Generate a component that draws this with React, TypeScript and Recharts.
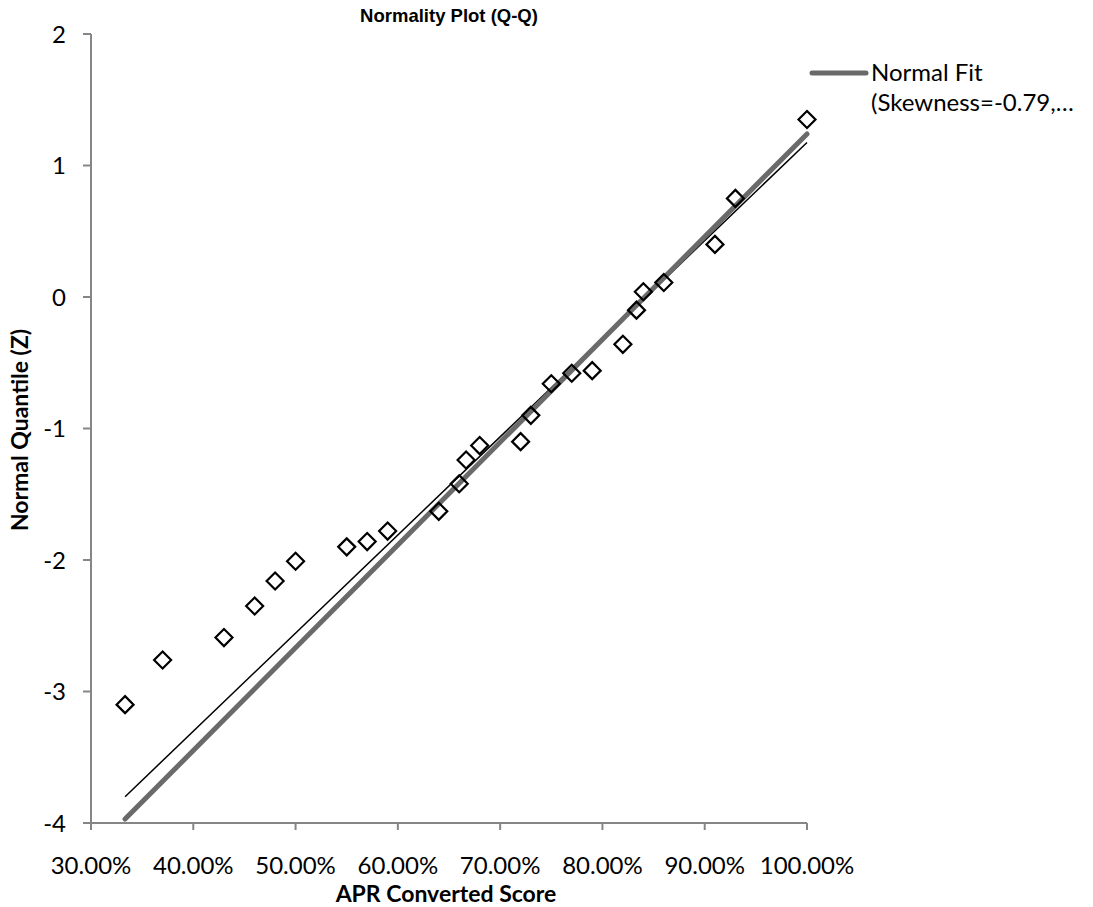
import React from 'react';
import { ScatterChart, Scatter, XAxis, YAxis, Label, Customized } from 'recharts';

// APR converted score (fraction) and normal quantile (z) for each observation
const scoreValues = [0.3333, 0.37, 0.43, 0.46, 0.48, 0.5, 0.55, 0.57, 0.59, 0.64, 0.66, 0.6667, 0.68, 0.72, 0.73, 0.75, 0.77, 0.79, 0.82, 0.8333, 0.84, 0.86, 0.91, 0.93, 1.0];
const quantileValues = [-3.1, -2.76, -2.59, -2.35, -2.16, -2.01, -1.9, -1.86, -1.78, -1.63, -1.42, -1.24, -1.13, -1.1, -0.9, -0.66, -0.58, -0.56, -0.36, -0.1, 0.04, 0.11, 0.4, 0.75, 1.35];

// Normal fit line (gray) and linear trend line (black) endpoints
const lineX = [0.3333, 1.0];
const normalFitY = [-3.97, 1.24];
const trendY = [-3.8, 1.175];

const xTicks = [0.3, 0.4, 0.5, 0.6, 0.7, 0.8, 0.9, 1.0];
const yTicks = [-4, -3, -2, -1, 0, 1, 2];

const legendLines = ['Normal Fit', '(Skewness=-0.79,…'];

const points = scoreValues.map((x, i) => ({ x, y: quantileValues[i] }));
const normalFit = lineX.map((x, i) => ({ x, y: normalFitY[i] }));
const trend = lineX.map((x, i) => ({ x, y: trendY[i] }));

const AXIS = '#868686';
const FIT = '#6a6a6a';

const Diamond = (props: any) => {
  const { cx, cy } = props;
  const r = 8.5;
  return (
    <path
      d={`M${cx},${cy - r}L${cx + r},${cy}L${cx},${cy + r}L${cx - r},${cy}Z`}
      fill="none"
      stroke="#000"
      strokeWidth={2.2}
    />
  );
};

const NoShape = () => <g />;

const LegendBox = () => (
  <g className="recharts-legend">
    <line x1={812} y1={73} x2={866} y2={73} stroke={FIT} strokeWidth={5} strokeLinecap="round" />
    {legendLines.map((t, i) => (
      <text key={i} x={871} y={73 + i * 30} dy="0.35em" fontFamily="Lato" fontSize={24} fill="#000">
        {t}
      </text>
    ))}
  </g>
);

const Title = () => (
  <text x={449} y={15} textAnchor="middle" dominantBaseline="central" fontFamily="Liberation Sans, Arial" fontWeight="bold" fontSize={18.5} fill="#000">
    Normality Plot (Q-Q)
  </text>
);

const YTitle = () => (
  <text
    x={19}
    y={430}
    transform="rotate(-90 19 430)"
    textAnchor="middle"
    dominantBaseline="central"
    fontFamily="Lato"
    fontWeight="bold"
    fontSize={23}
    fill="#000"
  >
    Normal Quantile (Z)
  </text>
);

export default function App() {
  return (
    <div style={{ position: 'absolute', left: 0, top: 0, width: 1093, height: 907, background: '#fff' }}>
      <ScatterChart width={1093} height={907} margin={{ top: 34, right: 286, bottom: 0, left: 0 }}>
        <XAxis
          type="number"
          dataKey="x"
          domain={[0.3, 1.0]}
          ticks={xTicks}
          interval={0}
          tickFormatter={(v: number) => (v * 100).toFixed(2) + '%'}
          height={84}
          tickSize={7}
          tickMargin={27}
          axisLine={{ stroke: AXIS, strokeWidth: 2 }}
          tickLine={{ stroke: AXIS, strokeWidth: 2 }}
          tick={{ fill: '#000', fontFamily: 'Lato', fontSize: 24 }}
        >
          <Label
            content={() => (
              <text x={446} y={893} textAnchor="middle" dominantBaseline="central" fontFamily="Lato" fontWeight="bold" fontSize={23} fill="#000">
                APR Converted Score
              </text>
            )}
          />
        </XAxis>
        <YAxis
          type="number"
          dataKey="y"
          domain={[-4, 2]}
          ticks={yTicks}
          interval={0}
          width={91}
          tickSize={8}
          tickMargin={17}
          axisLine={{ stroke: AXIS, strokeWidth: 2 }}
          tickLine={{ stroke: AXIS, strokeWidth: 2 }}
          tick={{ fill: '#000', fontFamily: 'Lato', fontSize: 24 }}
        />
        <Scatter
          name="Trend"
          data={trend}
          line={{ stroke: '#000', strokeWidth: 1.5 }}
          shape={NoShape}
          isAnimationActive={false}
        />
        <Scatter
          name="Normal Fit"
          data={normalFit}
          line={{ stroke: FIT, strokeWidth: 5, strokeLinecap: 'round' }}
          shape={NoShape}
          isAnimationActive={false}
        />
        <Scatter name="Data" data={points} shape={Diamond} isAnimationActive={false} />
        <Customized component={LegendBox} />
        <Customized component={Title} />
        <Customized component={YTitle} />
      </ScatterChart>
    </div>
  );
}
